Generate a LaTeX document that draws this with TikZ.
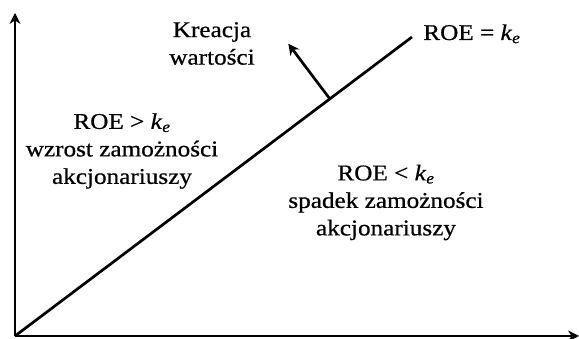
\documentclass[tikz,border=0pt]{standalone}
\usepackage{fontspec}
\setmainfont[FakeStretch=1.12,FakeBold=0.7]{Liberation Serif}
\usetikzlibrary{calc,arrows.meta}
\newcommand{\ke}{\textit{k}\textsubscript{\textit{e}}}

\begin{document}
\begin{tikzpicture}[>={Stealth[length=11pt,width=11pt]}, x=1pt, y=1pt,
    line width=2.7pt, font=\fontsize{22.5}{27.5}\selectfont]
  \useasboundingbox (0,0) rectangle (579,339);
  % axes and the break-even line ROE = k_e
  \coordinate (O) at (15,3);
  \coordinate (ytop) at (15,326);
  \coordinate (xend) at (579,3);
  \coordinate (lend) at (412,302);
  \draw[->] (O) -- (ytop);
  \draw[->] (O) -- (xend);
  \draw (O) -- (lend);
  % value creation points away from the line, towards the upper-left region
  \coordinate (abase) at ($(O)!0.793!(lend)$);
  \coordinate (atip) at ($(abase)!69pt!90:(lend)$);
  \draw[->] (abase) -- (atip);
  \node[anchor=base west, inner sep=0] (roeeq) at (422,299) {ROE = \ke};
  \node[align=center] (kreacja) at (212,295.5) {Kreacja\\wartości};
  \node[align=center] (wzrost) at (122,188) {ROE > \ke\\wzrost zamożności\\akcjonariuszy};
  \node[align=center] (spadek) at (386,136.5) {ROE < \ke\\spadek zamożności\\akcjonariuszy};
\end{tikzpicture}
\end{document}
